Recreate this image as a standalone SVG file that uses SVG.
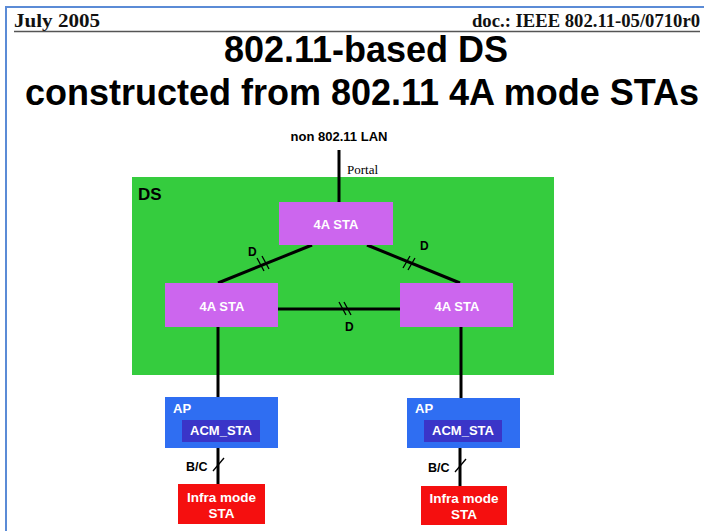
<svg xmlns="http://www.w3.org/2000/svg" width="704" height="531" viewBox="0 0 704 531">
<style>
.hdr{font-family:"Liberation Serif",serif;font-weight:bold;font-size:18px;fill:#111}
.title{font-family:"Liberation Sans",Arial,sans-serif;font-weight:bold;font-size:36px;fill:#000;text-anchor:middle}
.lbl{font-family:"Liberation Sans",Arial,sans-serif;font-weight:bold;fill:#000}
.wt{font-family:"Liberation Sans",Arial,sans-serif;font-weight:bold;fill:#fff;text-anchor:middle}
.wl{font-family:"Liberation Sans",Arial,sans-serif;font-weight:bold;fill:#fff;text-anchor:start}
.sta{fill:#cc66ee}
.ap{fill:#2f6ef2}
.acm{fill:#3a35c8}
.infra{fill:#f50f0f}
.ln{stroke:#000;stroke-width:3;fill:none}
.tick{stroke:#000;stroke-width:1.3;fill:none}
</style>
<rect x="0" y="0" width="704" height="531" fill="#fff"/>
<path d="M6 531 V7 H704" fill="none" stroke="#5b8bd6" stroke-width="2"/>
<text class="hdr" x="14" y="27" textLength="86" lengthAdjust="spacingAndGlyphs">July 2005</text>
<text class="hdr" x="700" y="27" text-anchor="end" textLength="228" lengthAdjust="spacingAndGlyphs">doc.: IEEE 802.11-05/0710r0</text>
<line x1="14" y1="31.5" x2="700" y2="31.5" stroke="#555" stroke-width="1.5"/>
<text class="title" x="366" y="62">802.11-based DS</text>
<text class="title" x="362" y="105">constructed from 802.11 4A mode STAs</text>

<g id="lan">
<text class="lbl" x="339" y="141" font-size="13" text-anchor="middle">non 802.11 LAN</text>
</g>

<g id="ds">
<rect x="132" y="177" width="422" height="198" fill="#35cc3e"/>
<text class="lbl" x="138" y="200" font-size="17">DS</text>
</g>

<g id="connectors">
<line class="ln" x1="339" y1="150" x2="339" y2="202"/>
<text x="347" y="174" font-family="Liberation Serif,serif" font-size="13" fill="#000">Portal</text>
<line class="ln" x1="312" y1="245" x2="218" y2="283"/>
<line class="ln" x1="367" y1="245" x2="460" y2="283"/>
<line class="ln" x1="278" y1="309" x2="400" y2="309"/>
<line class="ln" x1="218" y1="327" x2="218" y2="397"/>
<line class="ln" x1="461" y1="327" x2="461" y2="398"/>
<line class="ln" x1="218" y1="448" x2="218" y2="484"/>
<line class="ln" x1="460" y1="448" x2="460" y2="486"/>
<path class="tick" d="M257 258 L264 271 M262 256 L269 269"/>
<text class="lbl" x="248" y="256" font-size="12">D</text>
<path class="tick" d="M403 268 L410 256 M408 270 L415 258"/>
<text class="lbl" x="420" y="250" font-size="12">D</text>
<path class="tick" d="M339 302 L346 315 M344 302 L351 315"/>
<text class="lbl" x="345" y="331" font-size="12">D</text>
<path class="tick" d="M213 471 L224 458"/>
<text class="lbl" x="186" y="471" font-size="12.5">B/C</text>
<path class="tick" d="M455 472 L466 459"/>
<text class="lbl" x="428" y="472" font-size="12.5">B/C</text>
</g>

<g id="sta-top">
<rect class="sta" x="279" y="202" width="114" height="43"/>
<text class="wt" x="336" y="229" font-size="13">4A STA</text>
</g>
<g id="sta-left">
<rect class="sta" x="165" y="283" width="113" height="44"/>
<text class="wt" x="222" y="311" font-size="13">4A STA</text>
</g>
<g id="sta-right">
<rect class="sta" x="400" y="283" width="113" height="44"/>
<text class="wt" x="457" y="311" font-size="13">4A STA</text>
</g>

<g id="ap-left">
<rect class="ap" x="165" y="397" width="113" height="51"/>
<text class="wl" x="173" y="413" font-size="13">AP</text>
<rect class="acm" x="182" y="420" width="78" height="22"/>
<text class="wt" x="221" y="435" font-size="13">ACM_STA</text>
</g>
<g id="ap-right">
<rect class="ap" x="407" y="398" width="113" height="50"/>
<text class="wl" x="415" y="413" font-size="13">AP</text>
<rect class="acm" x="424" y="420" width="78" height="22"/>
<text class="wt" x="463" y="435" font-size="13">ACM_STA</text>
</g>

<g id="infra-left">
<rect class="infra" x="178" y="484" width="87" height="40"/>
<text class="wt" x="221.5" y="502" font-size="13.5">Infra mode</text>
<text class="wt" x="221.5" y="518" font-size="13.5">STA</text>
</g>
<g id="infra-right">
<rect class="infra" x="421" y="486" width="86" height="39"/>
<text class="wt" x="464" y="503" font-size="13.5">Infra mode</text>
<text class="wt" x="464" y="519" font-size="13.5">STA</text>
</g>
</svg>
